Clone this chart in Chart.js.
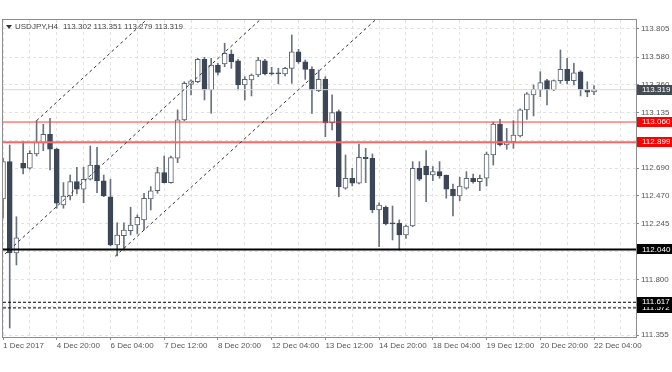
<!DOCTYPE html>
<html>
<head>
<meta charset="utf-8">
<script src="https://cdn.jsdelivr.net/npm/chart.js@4.4.1/dist/chart.umd.min.js"></script>
<style>
html, body { margin: 0; padding: 0; background: #fff; }
canvas { display: block; }
</style>
</head>
<body>
<canvas id="chart" width="672" height="372"></canvas>
<script>
// USDJPY H4, 1 Dec 2017 12:00 .. 22 Dec 2017 04:00
const symbol = 'USDJPY,H4';

const opens = [
  112.444, 112.743, 112.012, 112.730, 112.690, 112.804, 112.895, 112.962, 112.844, 112.396,
  112.468, 112.583, 112.522, 112.602, 112.716, 112.590, 112.462, 112.076, 112.150, 112.190,
  112.236, 112.276, 112.444, 112.510, 112.655, 112.575, 112.770, 113.077, 113.362, 113.383,
  113.562, 113.317, 113.517, 113.525, 113.605, 113.551, 113.357, 113.397, 113.437, 113.551,
  113.455, 113.455, 113.445, 113.490, 113.623, 113.543, 113.482, 113.311, 113.402, 113.055,
  113.143, 112.530, 112.610, 112.570, 112.778, 112.770, 112.356, 112.378, 112.254, 112.249,
  112.156, 112.228, 112.690, 112.708, 112.636, 112.663, 112.636, 112.522, 112.468, 112.530,
  112.610, 112.583, 112.610, 112.796, 113.044, 112.876, 112.903, 112.948, 113.157, 113.277,
  113.317, 113.391, 113.317, 113.391, 113.482, 113.391, 113.463, 113.317, 113.302
];
const highs = [
  112.772, 112.876, 112.302, 112.903, 112.831, 113.071, 113.042, 113.090, 112.850, 112.575,
  112.636, 112.698, 112.698, 112.868, 112.858, 112.636, 112.602, 112.254, 112.254, 112.378,
  112.316, 112.490, 112.543, 112.698, 112.788, 112.788, 113.157, 113.383, 113.397, 113.570,
  113.578, 113.570, 113.530, 113.691, 113.637, 113.562, 113.423, 113.445, 113.578, 113.562,
  113.498, 113.490, 113.498, 113.757, 113.642, 113.557, 113.503, 113.477, 113.423, 113.277,
  113.157, 112.796, 112.690, 112.884, 112.850, 112.804, 112.414, 112.388, 112.388, 112.276,
  112.236, 112.743, 112.743, 112.831, 112.703, 112.743, 112.636, 112.564, 112.618, 112.663,
  112.644, 112.636, 112.820, 113.060, 113.082, 113.010, 113.071, 113.165, 113.295, 113.357,
  113.463, 113.402, 113.397, 113.637, 113.570, 113.530, 113.471, 113.383, 113.351
];
const lows = [
  112.292, 111.411, 111.916, 112.644, 112.682, 112.788, 112.831, 112.676, 112.370, 112.370,
  112.436, 112.484, 112.414, 112.596, 112.494, 112.462, 112.068, 111.988, 112.036, 112.156,
  112.164, 112.196, 112.356, 112.490, 112.572, 112.570, 112.735, 113.071, 113.277, 113.375,
  113.237, 113.130, 113.437, 113.503, 113.490, 113.317, 113.237, 113.269, 113.423, 113.437,
  113.437, 113.365, 113.429, 113.370, 113.530, 113.402, 113.130, 113.303, 112.943, 112.996,
  112.462, 112.522, 112.548, 112.564, 112.575, 112.334, 112.062, 112.236, 112.116, 112.036,
  112.129, 112.222, 112.591, 112.422, 112.591, 112.610, 112.450, 112.308, 112.430, 112.522,
  112.570, 112.510, 112.548, 112.716, 112.868, 112.842, 112.850, 112.940, 113.082, 113.109,
  113.263, 113.197, 113.311, 113.370, 113.365, 113.357, 113.269, 113.263, 113.279
];
const closes = [
  112.743, 112.012, 112.132, 112.690, 112.810, 112.898, 112.962, 112.842, 112.410, 112.468,
  112.583, 112.522, 112.602, 112.716, 112.590, 112.468, 112.076, 112.156, 112.196, 112.236,
  112.298, 112.450, 112.510, 112.655, 112.575, 112.775, 113.077, 113.370, 113.389, 113.562,
  113.317, 113.517, 113.458, 113.611, 113.543, 113.357, 113.402, 113.437, 113.557, 113.445,
  113.445, 113.447, 113.490, 113.623, 113.543, 113.482, 113.317, 113.402, 113.055, 113.135,
  112.543, 112.610, 112.570, 112.778, 112.767, 112.356, 112.396, 112.244, 112.244, 112.156,
  112.228, 112.690, 112.602, 112.636, 112.663, 112.628, 112.522, 112.468, 112.548, 112.610,
  112.583, 112.610, 112.804, 113.044, 112.876, 112.903, 112.956, 113.157, 113.285, 113.322,
  113.375, 113.317, 113.391, 113.482, 113.391, 113.455, 113.322, 113.300, 113.319
];

// one label every 8 bars (32 hours)
const xTickLabels = [
  '1 Dec 2017', '4 Dec 20:00', '6 Dec 04:00', '7 Dec 12:00', '8 Dec 20:00', '12 Dec 04:00',
  '13 Dec 12:00', '14 Dec 20:00', '18 Dec 04:00', '19 Dec 12:00', '20 Dec 20:00', '22 Dec 04:00'
];
const yTicks = [111.355, 111.580, 111.800, 112.020, 112.245, 112.470, 112.690, 112.910, 113.135, 113.360, 113.580, 113.805];

// drawn objects
const bidLevel = 113.319;
const redLevels = [113.060, 112.899];
const supportLevel = 112.040;
const dottedLevels = [111.617, 111.572];
const channelA = [{ x: 5, y: 113.071 }, { x: 26, y: 114.108 }];
const channelD = [{ x: -1, y: 111.940 }, { x: 40, y: 113.964 }];
const channelC = [{ x: 16.7, y: 111.985 }, { x: 60, y: 114.100 }];

const X_MIN = 0, X_MAX = 94.25;
const FONT = "'Liberation Sans', Arial, sans-serif";
const BULL = '#ffffff', BEAR = '#3c4656', EDGE = '#5b6470', WICK = '#69727e';

const idx = opens.map((o, i) => i);
const up = idx.map(i => closes[i] >= opens[i]);

function levelLine(value, color, width, dash) {
  return {
    type: 'line',
    data: [{ x: X_MIN, y: value }, { x: X_MAX, y: value }],
    borderColor: color, borderWidth: width, borderDash: dash || [],
    pointRadius: 0, order: 1
  };
}
function trendLine(points) {
  return {
    type: 'line', data: points,
    borderColor: '#333333', borderWidth: 1, borderDash: [3, 3],
    pointRadius: 0, order: 0
  };
}

const frameAndLabels = {
  id: 'frameAndLabels',
  afterDraw(chart) {
    const ctx = chart.ctx;
    const a = chart.chartArea;
    const y = chart.scales.y;
    ctx.save();
    ctx.strokeStyle = '#8c8c8c';
    ctx.lineWidth = 1;
    ctx.strokeRect(a.left - 0.5, a.top - 0.5, a.right - a.left + 1, a.bottom - a.top + 1);

    // header
    ctx.fillStyle = '#333';
    ctx.beginPath();
    ctx.moveTo(6, 25); ctx.lineTo(12, 25); ctx.lineTo(9, 29); ctx.closePath();
    ctx.fill();
    ctx.font = '8px ' + FONT;
    ctx.textBaseline = 'middle';
    ctx.fillStyle = '#444';
    const n = opens.length - 1;
    ctx.fillText(symbol, 15, 27);
    ctx.fillText([opens[n], highs[n], lows[n], closes[n]].map(v => v.toFixed(3)).join(' '), 63, 27);

    // price tags on the axis
    const tags = [
      { v: dottedLevels[1], bg: '#000' },
      { v: dottedLevels[0], bg: '#000' },
      { v: supportLevel, bg: '#000' },
      { v: redLevels[1], bg: '#ff0000' },
      { v: redLevels[0], bg: '#ff0000' },
      { v: bidLevel, bg: '#444b52' }
    ];
    tags.forEach(t => {
      const py = y.getPixelForValue(t.v);
      ctx.fillStyle = t.bg;
      ctx.fillRect(a.right + 1, Math.round(py) - 5, chart.width - a.right - 1, 10);
      ctx.fillStyle = '#fff';
      ctx.fillText(t.v.toFixed(3), a.right + 6, py);
    });
    ctx.restore();
  }
};

const ctx = document.getElementById('chart').getContext('2d');
new Chart(ctx, {
  type: 'bar',
  data: {
    datasets: [
      trendLine(channelA),
      trendLine(channelD),
      trendLine(channelC),
      levelLine(bidLevel, '#d9d9d9', 1),
      levelLine(redLevels[0], '#ff3b3b', 1),
      levelLine(redLevels[1], '#ff6464', 2),
      levelLine(supportLevel, '#000000', 2),
      levelLine(dottedLevels[0], '#000000', 1, [3, 2]),
      levelLine(dottedLevels[1], '#000000', 1, [3, 2]),
      {
        label: 'bodies',
        data: idx.map(i => ({ x: i, y: [opens[i], closes[i]] })),
        backgroundColor: idx.map(i => up[i] ? BULL : BEAR),
        borderColor: idx.map(i => up[i] ? EDGE : BEAR),
        borderWidth: 1, borderSkipped: false, minBarLength: 1,
        grouped: false, barPercentage: 1, categoryPercentage: 1, maxBarThickness: 5,
        order: 2
      },
      {
        label: 'wicks',
        data: idx.map(i => ({ x: i, y: [lows[i], highs[i]] })),
        backgroundColor: WICK, borderWidth: 0,
        grouped: false, barPercentage: 1, categoryPercentage: 1, maxBarThickness: 1,
        order: 3
      }
    ]
  },
  options: {
    responsive: false,
    animation: false,
    events: [],
    layout: { padding: { left: 3, top: 20, right: 0, bottom: 0 } },
    plugins: { legend: { display: false }, tooltip: { enabled: false } },
    scales: {
      x: {
        type: 'linear', min: X_MIN, max: X_MAX, offset: false,
        afterBuildTicks: s => {
          const t = [];
          for (let v = 0; v <= 92; v += 4) t.push({ value: v });
          s.ticks = t;
        },
        afterFit: s => { s.height = 35; },
        ticks: {
          align: 'start', autoSkip: false, maxRotation: 0, padding: 1,
          color: '#555', font: { family: FONT, size: 8 },
          callback: v => (v % 8 === 0 ? xTickLabels[v / 8] : '')
        },
        grid: {
          color: '#e2e2e2', offset: false, tickLength: 3,
          tickColor: c => (c.tick && c.tick.value % 8 === 0 ? '#8c8c8c' : 'rgba(0,0,0,0)')
        },
        border: { display: false, dash: [3, 3] }
      },
      y: {
        position: 'right', min: 111.339, max: 113.877,
        afterBuildTicks: s => { s.ticks = yTicks.map(v => ({ value: v })); },
        afterFit: s => { s.width = 36; },
        ticks: {
          padding: 2, color: '#555', font: { family: FONT, size: 8 },
          callback: v => v.toFixed(3)
        },
        grid: { color: '#e2e2e2', tickLength: 3, tickColor: '#8c8c8c' },
        border: { display: false, dash: [3, 3] }
      }
    }
  },
  plugins: [frameAndLabels]
});
</script>
</body>
</html>
